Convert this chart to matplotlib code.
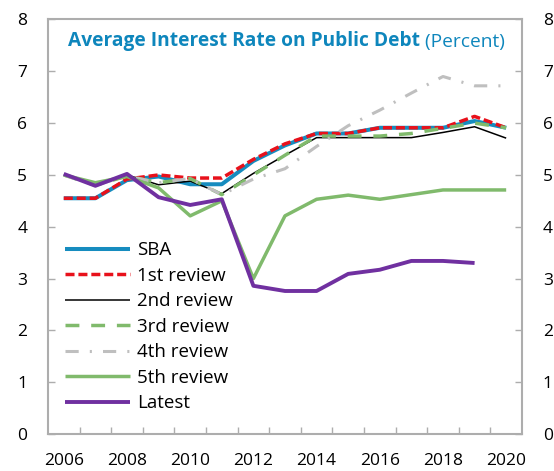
import numpy as np
import matplotlib
matplotlib.use("Agg")
import matplotlib.pyplot as plt

plt.rcParams['font.family'] = ['Open Sans', 'DejaVu Sans']
plt.rcParams['lines.scale_dashes'] = False

# === Data ===
years = list(range(2006, 2021))
sba    = [4.55, 4.55, 4.90, 4.97, 4.82, 4.82, 5.27, 5.57, 5.80, 5.80, 5.91, 5.91, 5.91, 6.04, 5.91]
rev1   = [4.55, 4.55, 4.92, 5.00, 4.94, 4.94, 5.30, 5.60, 5.80, 5.80, 5.91, 5.91, 5.91, 6.13, 5.91]
rev2   = [5.00, 4.80, 5.00, 4.81, 4.88, 4.64, 5.03, 5.38, 5.72, 5.72, 5.72, 5.72, 5.82, 5.93, 5.71]
rev3   = [5.00, 4.80, 4.98, 4.85, 4.93, 4.62, 5.00, 5.38, 5.75, 5.75, 5.75, 5.80, 5.90, 6.00, 5.91]
rev4   = [5.00, 4.80, 4.98, 4.85, 4.93, 4.62, 4.92, 5.12, 5.55, 5.95, 6.25, 6.58, 6.90, 6.72, 6.72]
rev5   = [5.00, 4.85, 4.97, 4.75, 4.21, 4.50, 3.00, 4.21, 4.53, 4.61, 4.53, 4.62, 4.71, 4.71, 4.71]
latest = [5.02, 4.79, 5.02, 4.57, 4.42, 4.53, 2.86, 2.76, 2.76, 3.09, 3.17, 3.34, 3.34, 3.30, np.nan]

labels = ["SBA", "1st review", "2nd review", "3rd review", "4th review", "5th review", "Latest"]
series = [sba, rev1, rev2, rev3, rev4, rev5, latest]

TITLE_C = "#0E86BC"
FRAME_C = "#ADADAD"

fig = plt.figure(figsize=(5.54, 4.71), dpi=100)
ax = fig.add_axes([0.0866, 0.0786, 0.8556, 0.88])

styles = [
    dict(color="#168CBF", lw=2.9),
    dict(color="#E8111B", lw=2.5, dashes=(6.5, 2.8)),
    dict(color="black", lw=1.1),
    dict(color="#80BA6C", lw=2.5, dashes=(10, 8.5)),
    dict(color="#BFBFBF", lw=2.2, dashes=(9.5, 8, 1.5, 8)),
    dict(color="#80BA6C", lw=2.5),
    dict(color="#7030A0", lw=2.8),
]
for y, lab, st in zip(series, labels, styles):
    ax.plot(years, y, label=lab, solid_capstyle="butt", dash_capstyle="butt", **st)

ax.set_xlim(2005.5, 2020.5)
ax.set_ylim(0, 8)
ax.set_xticks(range(2006, 2021, 2))
ax.set_xticks(np.arange(2006.5, 2020.5, 1.0), minor=True)
ax.set_yticks(range(0, 9))

for s in ax.spines.values():
    s.set_color(FRAME_C)
    s.set_linewidth(1.5)

ax.tick_params(axis="x", which="major", length=0, pad=14, labelsize=12.5)
ax.tick_params(axis="x", which="minor", direction="in", length=5, color=FRAME_C, width=1)
ax.tick_params(axis="y", direction="in", length=5, color=FRAME_C, width=1,
               left=True, right=True, labelleft=True, labelright=True, pad=15, labelsize=12.5)

# Title inside the plot: bold part + normal part
t = ax.text(0.042, 0.948, "Average Interest Rate on Public Debt", transform=ax.transAxes,
            fontsize=13.8, fontweight="bold", color=TITLE_C, va="center", ha="left")
ax.annotate(" (Percent)", xy=(1, 0), xycoords=t, xytext=(0, 0), textcoords="offset points",
            fontsize=13.8, color=TITLE_C, va="bottom", ha="left")

ax.legend(loc="upper left", bbox_to_anchor=(0.035, 0.465), frameon=False, fontsize=13.5,
          handlelength=3.5, handletextpad=0.35, labelspacing=0.4, borderpad=0, borderaxespad=0)

fig.savefig("out.png", dpi=100)
